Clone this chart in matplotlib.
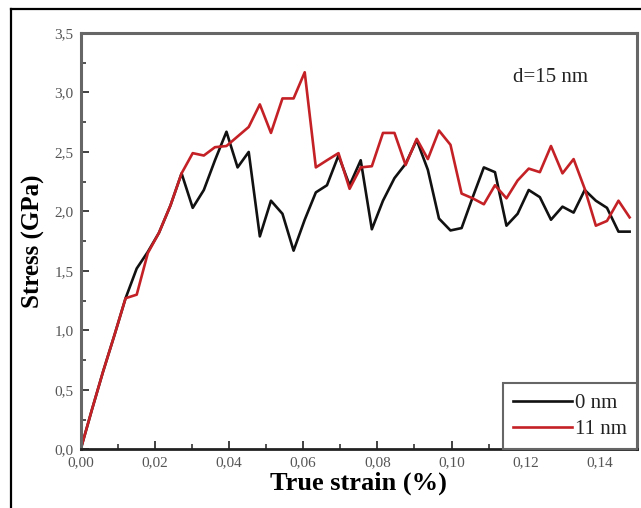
import matplotlib
matplotlib.use("Agg")
import matplotlib.pyplot as plt
from matplotlib.lines import Line2D
from matplotlib.ticker import MultipleLocator, FuncFormatter

# True strain samples (shared by both runs)
strain = [0.0000, 0.0030, 0.0060, 0.0091, 0.0121, 0.0151, 0.0181, 0.0211,
          0.0242, 0.0272, 0.0302, 0.0332, 0.0362, 0.0393, 0.0423, 0.0453,
          0.0483, 0.0513, 0.0544, 0.0574, 0.0604, 0.0634, 0.0664, 0.0695,
          0.0725, 0.0755, 0.0785, 0.0815, 0.0846, 0.0876, 0.0906, 0.0936,
          0.0966, 0.0997, 0.1027, 0.1057, 0.1087, 0.1117, 0.1148, 0.1178,
          0.1208, 0.1238, 0.1268, 0.1299, 0.1329, 0.1359, 0.1389, 0.1419,
          0.1450, 0.1480]

# Stress (GPa) for each case
stress_0nm = [0.00, 0.33, 0.65, 0.96, 1.27, 1.52, 1.66, 1.82,
              2.05, 2.32, 2.03, 2.18, 2.43, 2.67, 2.37, 2.50,
              1.79, 2.09, 1.98, 1.67, 1.93, 2.16, 2.22, 2.47,
              2.22, 2.43, 1.85, 2.09, 2.28, 2.40, 2.60, 2.35,
              1.94, 1.84, 1.86, 2.12, 2.37, 2.33, 1.88, 1.98,
              2.18, 2.12, 1.93, 2.04, 1.99, 2.18, 2.09, 2.03,
              1.83, 1.83]

stress_11nm = [0.00, 0.33, 0.65, 0.96, 1.27, 1.30, 1.65, 1.82,
               2.05, 2.32, 2.49, 2.47, 2.54, 2.55, 2.63, 2.71,
               2.90, 2.66, 2.95, 2.95, 3.17, 2.37, 2.43, 2.49,
               2.19, 2.37, 2.38, 2.66, 2.66, 2.39, 2.61, 2.44,
               2.68, 2.56, 2.15, 2.11, 2.06, 2.22, 2.11, 2.26,
               2.36, 2.33, 2.55, 2.32, 2.44, 2.19, 1.88, 1.92,
               2.09, 1.95]

series_labels = ["0 nm", "11 nm"]
annotation = "d=15 nm"

plt.rcParams["font.family"] = ["Liberation Serif", "DejaVu Serif"]

fig = plt.figure(figsize=(6.41, 5.08), dpi=100)
ax = fig.add_axes([0.1259, 0.1156, 0.8679, 0.8194])

ax.plot(strain, stress_0nm, color="#111111", lw=1.9, label=series_labels[0])
ax.plot(strain, stress_11nm, color="#c42126", lw=1.9, label=series_labels[1])

ax.set_xlim(0, 0.15)
ax.set_ylim(0, 3.5)
ax.xaxis.set_major_locator(MultipleLocator(0.02))
ax.xaxis.set_minor_locator(MultipleLocator(0.01))
ax.yaxis.set_major_locator(MultipleLocator(0.5))
ax.yaxis.set_minor_locator(MultipleLocator(0.25))
ax.xaxis.set_major_formatter(FuncFormatter(lambda v, p: f"{v:.2f}".replace(".", ",")))
ax.yaxis.set_major_formatter(FuncFormatter(lambda v, p: f"{v:.1f}".replace(".", ",")))

ax.tick_params(which="major", direction="in", length=6, width=1.3, color="#333333",
               labelsize=11, labelcolor="#555555", pad=5)
ax.tick_params(which="minor", direction="in", length=3.5, width=1.2, color="#333333")

for side in ["left", "top", "right"]:
    ax.spines[side].set_color("#666666")
    ax.spines[side].set_linewidth(2.2)
ax.spines["bottom"].set_color("#222222")
ax.spines["bottom"].set_linewidth(2.0)

ax.set_xlabel("True strain (%)", fontsize=19, fontweight="bold", labelpad=2)
ax.set_ylabel("Stress (GPa)", fontsize=18, fontweight="bold", labelpad=7)

ax.text(0.844, 0.894, annotation, transform=ax.transAxes, fontsize=15,
        ha="center", va="center", color="#222222")

leg = ax.legend(loc="lower right", bbox_to_anchor=(1.0, 0.0), borderaxespad=0,
                fontsize=15, handlelength=2.8, handletextpad=0.15,
                labelspacing=0.3, fancybox=False, framealpha=1,
                borderpad=0.5)
leg.get_frame().set_edgecolor("#666666")
leg.get_frame().set_linewidth(1.5)
for t in leg.get_texts():
    t.set_color("#222222")

# Outer frame around the figure (left and top edges)
fig.add_artist(Line2D([0.0172, 0.0172], [0.0, 0.9823], transform=fig.transFigure,
                      color="black", lw=1.6))
fig.add_artist(Line2D([0.0172, 1.0], [0.9823, 0.9823], transform=fig.transFigure,
                      color="black", lw=1.6))

fig.savefig("out.png", dpi=100)
